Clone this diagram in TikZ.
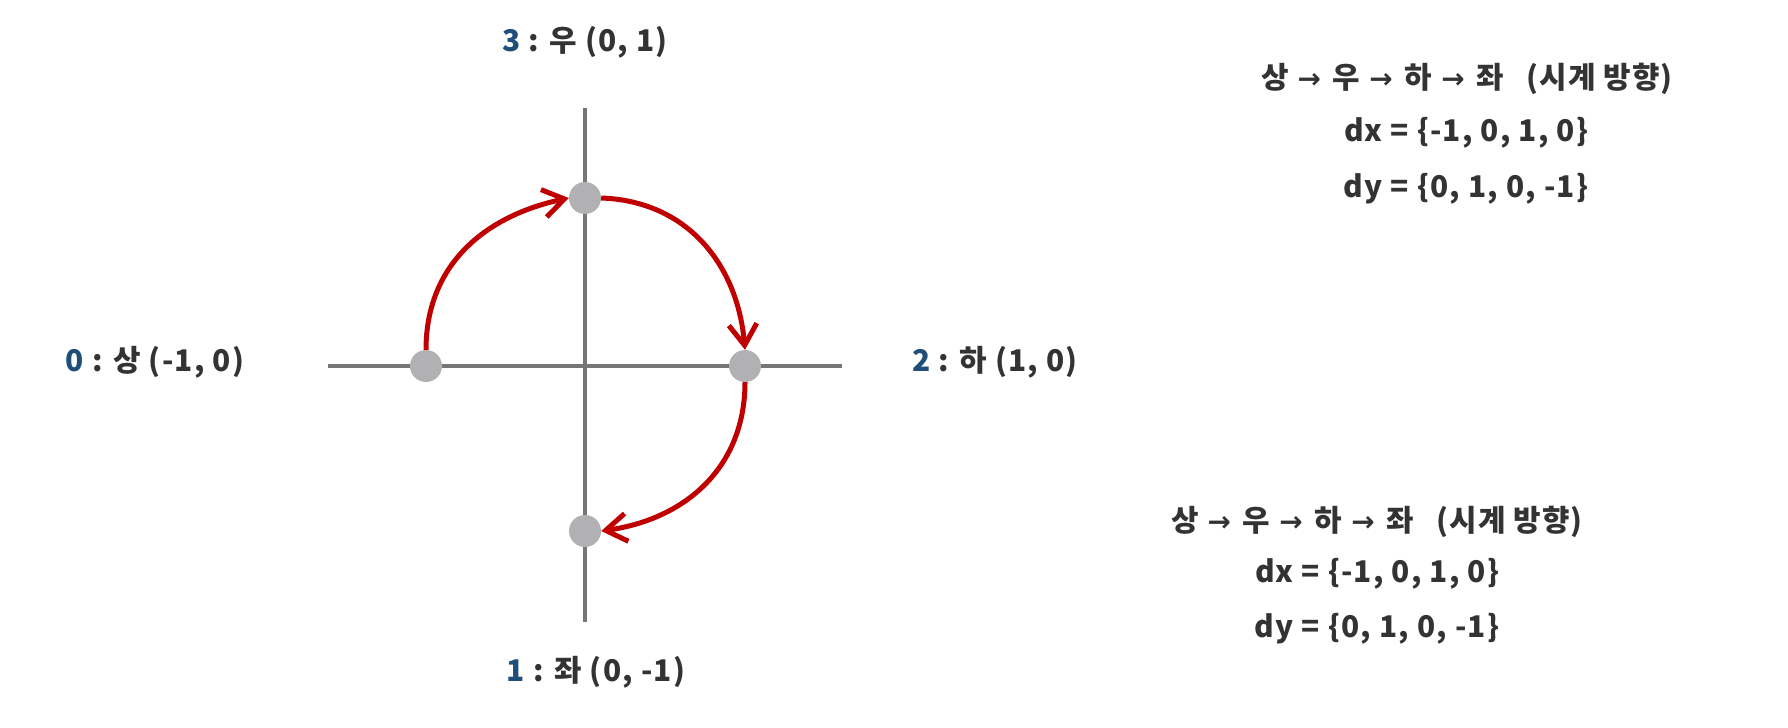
\documentclass[tikz,border=0pt]{standalone}
\usepackage{fontspec}
\setmainfont{Noto Sans CJK KR}[LetterSpace=4]
\newfontfamily\djv{DejaVu Sans}
\usetikzlibrary{arrows.meta}
\definecolor{axisgray}{HTML}{767676}
\definecolor{dotgray}{HTML}{B1B0B3}
\definecolor{arcred}{HTML}{C00000}
\definecolor{txt}{HTML}{333333}
\definecolor{numblue}{HTML}{1F4E79}
\newcommand{\myarr}{\hspace{9bp}{\djv\bfseries\fontsize{28}{30}\selectfont →}\hspace{12bp}}
\tikzset{
  axisline/.style={draw=axisgray, line width=3.2bp},
  dotnode/.style={circle, fill=dotgray, minimum size=32bp, inner sep=0pt},
  redarc/.style={draw=arcred, line width=5bp, -{Straight Barb[length=21bp, width=28bp, line width=5bp]}},
  lbl/.style={anchor=base, text=txt, font=\fontsize{30}{36}\selectfont\bfseries, inner sep=0pt},
  num/.style={text=numblue}
}
\begin{document}
\begin{tikzpicture}[x=1bp, y=1bp]
\useasboundingbox (0,0) rectangle (1788,-728);
% axes
\coordinate (vtop) at (585,-108);
\coordinate (vbot) at (585,-622);
\coordinate (hl) at (328,-366);
\coordinate (hr) at (842,-366);
\draw[axisline] (vtop) -- (vbot);
\draw[axisline] (hl) -- (hr);
% dots
\node[dotnode] (L) at (426,-366) {};
\node[dotnode] (T) at (585,-198) {};
\node[dotnode] (R) at (745,-366) {};
\node[dotnode] (B) at (585,-531) {};
% arcs
\draw[redarc] (L.north) to[out=90, in=192, looseness=1.05] (T.west);
\draw[redarc] (T.east) to[out=-2, in=95, looseness=1.05] (R.north);
\draw[redarc] (R.south) to[out=-90, in=8, looseness=1.05] (B.east);
% labels
\node[lbl] (l0) at (155,-371) {\textcolor{numblue}{0} : 상 (-1, 0)};
\node[lbl] (l2) at (995,-371) {\textcolor{numblue}{2} : 하 (1, 0)};
\node[lbl] (l3) at (585,-52) {\textcolor{numblue}{3} : 우 (0, 1)};
\node[lbl] (l1) at (596,-681) {\textcolor{numblue}{1} : 좌 (0, -1)};
% right text blocks
\node[lbl] (a1) at (1467,-89) {상\myarr 우\myarr 하\myarr 좌\hspace{22bp}(시계 방향)};
\node[lbl] (a2) at (1466,-142) {dx = \{-1, 0, 1, 0\}};
\node[lbl] (a3) at (1466,-197) {dy = \{0, 1, 0, -1\}};
\node[lbl] (b1) at (1377,-531) {상\myarr 우\myarr 하\myarr 좌\hspace{22bp}(시계 방향)};
\node[lbl] (b2) at (1377,-582) {dx = \{-1, 0, 1, 0\}};
\node[lbl] (b3) at (1377,-637) {dy = \{0, 1, 0, -1\}};
\end{tikzpicture}
\end{document}
